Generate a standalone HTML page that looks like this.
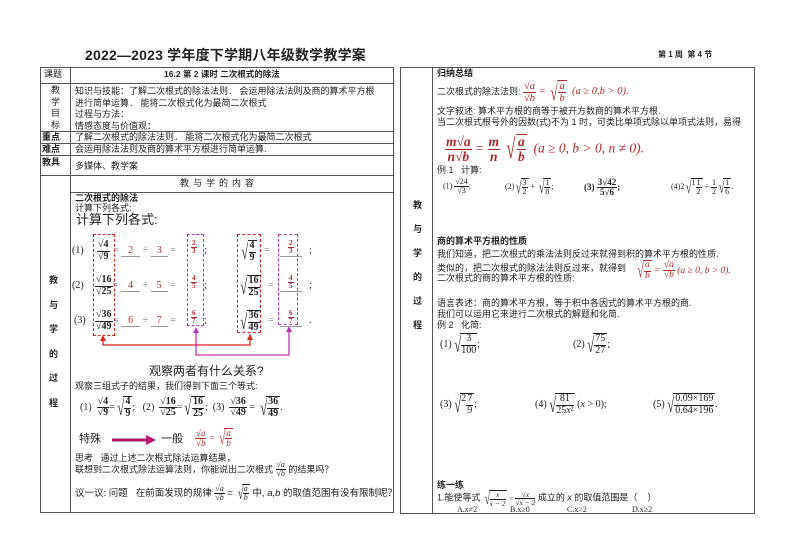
<!DOCTYPE html>
<html><head><meta charset="utf-8"><style>
*{margin:0;padding:0;box-sizing:border-box}
body{width:794px;height:560px;background:#fff;position:relative;overflow:hidden;font-family:"Liberation Sans","Noto Sans CJK SC",sans-serif;font-size:9px;color:#222}
.a{position:absolute;white-space:nowrap;line-height:1}
.ln{position:absolute;background:#555}
.m{font-family:"Liberation Serif","Noto Serif CJK SC",serif}
.red{color:#b0282a}
.fr{display:inline-flex;flex-direction:column;vertical-align:middle;text-align:center;line-height:1.05}
.fr>span:first-child{border-bottom:1px solid currentColor;padding:0 1px}
.r{display:inline-flex;align-items:flex-end;vertical-align:middle}
.r>i{font-style:normal;line-height:1}
.r>span{border-top:1px solid currentColor;padding:0 1px;line-height:1.05}
.t>i{font-size:2.1em;transform:scaleX(.6);margin-right:-3px}
.t>span{display:inline-flex}
.it{font-style:italic}
.b{font-weight:bold}
.dash{position:absolute;border:1px dashed}
</style></head><body>

<div class="a b" style="left:85px;top:48px;font-size:14px;letter-spacing:0.2px">2022—2023 学年度下学期八年级数学教学案</div>
<div class="a b" style="left:658px;top:51px;font-size:8px">第 1 周 &nbsp;第 4 节</div>

<!-- left table -->
<div style="position:absolute;left:40px;top:67px;width:354px;height:446px;border:1px solid #555"></div>
<div class="ln" style="left:70px;top:67px;width:1px;height:446px"></div>
<div class="ln" style="left:40px;top:83px;width:354px;height:1px"></div>
<div class="ln" style="left:40px;top:131px;width:354px;height:1px"></div>
<div class="ln" style="left:40px;top:143px;width:354px;height:1px"></div>
<div class="ln" style="left:40px;top:155px;width:354px;height:1px"></div>
<div class="ln" style="left:40px;top:175px;width:354px;height:1px"></div>
<div class="ln" style="left:70px;top:192px;width:324px;height:1px"></div>

<div class="a" style="left:44px;top:70px">课题</div>
<div class="a b" style="left:164px;top:70px;font-size:8.5px">16.2 第 2 课时 二次根式的除法</div>
<div class="a" style="left:51px;top:85px;line-height:11.5px;white-space:normal;width:10px">教学目标</div>
<div class="a" style="left:75px;top:86px;line-height:11.5px">知识与技能：了解二次根式的除法法则． 会运用除法法则及商的算术平方根<br>进行简单运算． 能将二次根式化为最简二次根式<br>过程与方法：<br>情感态度与价值观：</div>
<div class="a b" style="left:42px;top:133px">重点</div>
<div class="a" style="left:75px;top:133px">了解二次根式的除法法则． 能将二次根式化为最简二次根式</div>
<div class="a b" style="left:42px;top:145px">难点</div>
<div class="a" style="left:75px;top:145px">会运用除法法则及商的算术平方根进行简单运算.</div>
<div class="a b" style="left:42px;top:158px">教具</div>
<div class="a" style="left:75px;top:162px">多媒体、教学案</div>
<div class="a" style="left:180px;top:179px;letter-spacing:4px">教与学的内容</div>
<div class="a b" style="left:49px;top:268px;line-height:24.5px;white-space:normal;width:10px">教与学的过程</div>

<div class="a b" style="left:75px;top:194px">二次根式的除法</div>
<div class="a" style="left:75px;top:204px">计算下列各式:</div>
<div class="a" style="left:76px;top:213px;font-size:13px">计算下列各式:</div>

<!-- boxes -->
<div class="dash" style="left:93px;top:234px;width:22px;height:102px;border-color:#d22"></div>
<div class="dash" style="left:187px;top:234px;width:17px;height:92px;border-color:#b3b"></div>
<div class="dash" style="left:237px;top:234px;width:24px;height:99px;border-color:#d22"></div>
<div class="dash" style="left:278px;top:234px;width:20px;height:91px;border-color:#b3b"></div>

<svg style="position:absolute;left:0;top:0" width="794" height="560">
<polyline points="103,337 103,345 250,345 250,334" fill="none" stroke="#d22" stroke-width="1.3"/>
<polygon points="100,341 103,335 106,341" fill="#d22"/><polygon points="247,340 250,334 253,340" fill="#d22"/>
<polyline points="196,329 196,355 289,355 289,328" fill="none" stroke="#b3b" stroke-width="1.3"/>
<polygon points="193,333 196,327 199,333" fill="#b3b"/><polygon points="286,332 289,326 292,332" fill="#b3b"/>
<line x1="112" y1="440" x2="148" y2="440" stroke="#b0186a" stroke-width="3"/>
<polygon points="146,435 156,440 146,445" fill="#b0186a"/>
</svg>

<div class="m" style="position:absolute;left:72px;top:240px;font-size:10px">
 <div class="a" style="top:6px">(1)</div>
 <div class="a" style="left:25px;top:0"><span class="fr b"><span>√4</span><span>√9</span></span></div>
 <div class="a" style="left:41px;top:6px;color:#777">= <span style="border-bottom:1px solid #999;padding:0 7px" class="red">2</span> ÷ <span style="border-bottom:1px solid #999;padding:0 6px" class="red">3</span> =</div>
 <div class="a b red" style="left:119px;top:0;font-size:7px"><span class="fr"><span>2</span><span>3</span></span></div>
 <div class="a" style="left:132px;top:6px">;</div>
 <div class="a b" style="left:167px;top:0"><span class="r t"><i>√</i><span><span class="fr"><span>4</span><span>9</span></span></span></span></div>
 <div class="a" style="left:192px;top:6px;color:#777">=</div>
 <div class="a b red" style="left:208px;top:0;font-size:7px;border-bottom:1px solid #999;padding:0 8px"><span class="fr"><span>2</span><span>3</span></span></div>
 <div class="a" style="left:237px;top:6px">;</div>
</div>
<div class="m" style="position:absolute;left:72px;top:275px;font-size:10px">
 <div class="a" style="top:6px">(2)</div>
 <div class="a" style="left:23px;top:0"><span class="fr b"><span>√16</span><span>√25</span></span></div>
 <div class="a" style="left:41px;top:6px;color:#777">= <span style="border-bottom:1px solid #999;padding:0 7px" class="red">4</span> ÷ <span style="border-bottom:1px solid #999;padding:0 6px" class="red">5</span> =</div>
 <div class="a b red" style="left:119px;top:0;font-size:7px"><span class="fr"><span>4</span><span>5</span></span></div>
 <div class="a" style="left:132px;top:6px">;</div>
 <div class="a b" style="left:166px;top:0"><span class="r t"><i>√</i><span><span class="fr"><span>16</span><span>25</span></span></span></span></div>
 <div class="a" style="left:196px;top:6px;color:#777">=</div>
 <div class="a b red" style="left:208px;top:0;font-size:7px;border-bottom:1px solid #999;padding:0 8px"><span class="fr"><span>4</span><span>5</span></span></div>
 <div class="a" style="left:237px;top:6px">;</div>
</div>
<div class="m" style="position:absolute;left:74px;top:310px;font-size:10px">
 <div class="a" style="top:6px">(3)</div>
 <div class="a" style="left:21px;top:0"><span class="fr b"><span>√36</span><span>√49</span></span></div>
 <div class="a" style="left:39px;top:6px;color:#777">= <span style="border-bottom:1px solid #999;padding:0 7px" class="red">6</span> ÷ <span style="border-bottom:1px solid #999;padding:0 6px" class="red">7</span> =</div>
 <div class="a b red" style="left:117px;top:0;font-size:7px"><span class="fr"><span>6</span><span>7</span></span></div>
 <div class="a" style="left:130px;top:6px">;</div>
 <div class="a b" style="left:164px;top:0"><span class="r t"><i>√</i><span><span class="fr"><span>36</span><span>49</span></span></span></span></div>
 <div class="a" style="left:194px;top:6px;color:#777">=</div>
 <div class="a b red" style="left:206px;top:0;font-size:7px;border-bottom:1px solid #999;padding:0 8px"><span class="fr"><span>6</span><span>7</span></span></div>
 <div class="a" style="left:235px;top:6px">.</div>
</div>

<div class="a" style="left:149px;top:365px;font-size:12px">观察两者有什么关系?</div>
<div class="a" style="left:75px;top:382px">观察三组式子的结果，我们得到下面三个等式:</div>
<div class="a m" style="left:80px;top:396px;font-size:10px">(1) &nbsp;<span class="fr b"><span>√4</span><span>√9</span></span>=<span class="r t b"><i>√</i><span><span class="fr"><span>4</span><span>9</span></span></span></span>; &nbsp; (2) &nbsp;<span class="fr b"><span>√16</span><span>√25</span></span>=<span class="r t b"><i>√</i><span><span class="fr"><span>16</span><span>25</span></span></span></span>; &nbsp;(3) &nbsp;<span class="fr b"><span>√36</span><span>√49</span></span> = <span class="r t b"><i>√</i><span><span class="fr"><span>36</span><span>49</span></span></span></span>.</div>
<div class="a" style="left:79px;top:434px;font-size:11px">特殊</div>
<div class="a" style="left:161px;top:434px;font-size:11px">一般</div>
<div class="a m red it" style="left:195px;top:428px;font-size:9px"><span class="fr"><span>√a</span><span>√b</span></span> = <span class="r t"><i>√</i><span><span class="fr"><span>a</span><span>b</span></span></span></span></div>
<div class="a" style="left:75px;top:454px">思考 &nbsp; 通过上述二次根式除法运算结果，</div>
<div class="a" style="left:75px;top:461px">联想到二次根式除法运算法则，你能说出二次根式 <span class="fr m it" style="font-size:8px"><span>√a</span><span>√b</span></span> 的结果吗？</div>
<div class="a" style="left:75px;top:484px;font-size:9.5px">议一议: 问题 &nbsp; 在前面发现的规律 <span class="fr m it" style="font-size:8px"><span>√a</span><span>√b</span></span> = <span class="r t m it" style="font-size:8px"><i>√</i><span><span class="fr"><span>a</span><span>b</span></span></span></span> 中, <i>a,b</i> 的取值范围有没有限制呢？</div>

<!-- right table -->
<div style="position:absolute;left:400px;top:67px;width:355px;height:447px;border:1px solid #555"></div>
<div class="ln" style="left:432px;top:67px;width:1px;height:447px"></div>
<div class="a b" style="left:413px;top:193px;line-height:24px;white-space:normal;width:10px">教与学的过程</div>

<div class="a b" style="left:437px;top:69px">归纳总结</div>
<div class="a" style="left:437px;top:80px">二次根式的除法法则: <span class="red m it" style="font-size:10.5px"><span class="fr"><span>√a</span><span>√b</span></span> = <span class="r t"><i>√</i><span><span class="fr"><span>a</span><span>b</span></span></span></span> &nbsp;(a ≥ 0,b &gt; 0).</span></div>
<div class="a" style="left:437px;top:107px">文字叙述: 算术平方根的商等于被开方数商的算术平方根.</div>
<div class="a" style="left:437px;top:118px">当二次根式根号外的因数(式)不为 1 时，可类比单项式除以单项式法则，易得</div>
<div class="a red m it" style="left:445px;top:134px;font-size:13.5px"><span class="fr b"><span>m√a</span><span>n√b</span></span> = <span class="fr b"><span>m</span><span>n</span></span> <span class="r t"><i>√</i><span><span class="fr b"><span>a</span><span>b</span></span></span></span> &nbsp;(a ≥ 0, b &gt; 0, n ≠ 0).</div>
<div class="a" style="left:437px;top:166px">例 1 &nbsp; 计算:</div>
<div class="a m" style="left:443px;top:178px;font-size:8px">(1) <span class="fr"><span>√24</span><span>√3</span></span>;</div>
<div class="a m" style="left:505px;top:178px;font-size:8px">(2)<span class="r t"><i>√</i><span><span class="fr"><span>3</span><span>2</span></span></span></span> + <span class="r t"><i>√</i><span><span class="fr"><span>1</span><span>8</span></span></span></span>;</div>
<div class="a m b" style="left:584px;top:178px;font-size:9px">(3) <span class="fr"><span>3√42</span><span>5√6</span></span>;</div>
<div class="a m" style="left:671px;top:178px;font-size:8px">(4)2<span class="r t"><i>√</i><span>1<span class="fr"><span>1</span><span>2</span></span></span></span> ÷ <span class="fr"><span>1</span><span>2</span></span><span class="r t"><i>√</i><span><span class="fr"><span>1</span><span>6</span></span></span></span>.</div>

<div class="a b" style="left:437px;top:237px">商的算术平方根的性质</div>
<div class="a" style="left:437px;top:250px">我们知道，把二次根式的乘法法则反过来就得到积的算术平方根的性质.</div>
<div class="a" style="left:437px;top:264px">类似的，把二次根式的除法法则反过来，就得到</div>
<div class="a" style="left:437px;top:274px">二次根式的商的算术平方根的性质:</div>
<div class="a red m it" style="left:635px;top:260px;font-size:9.5px"><span class="r t"><i>√</i><span><span class="fr"><span>a</span><span>b</span></span></span></span> = <span class="fr"><span>√a</span><span>√b</span></span> (a ≥ 0, b &gt; 0).</div>
<div class="a" style="left:437px;top:299px">语言表述：商的算术平方根，等于积中各因式的算术平方根的商.</div>
<div class="a" style="left:437px;top:310px">我们可以运用它来进行二次根式的解题和化简.</div>
<div class="a" style="left:437px;top:321px">例 2 &nbsp; 化简:</div>
<div class="a m" style="left:440px;top:333px;font-size:10px">(1)<span class="r t"><i>√</i><span><span class="fr"><span>3</span><span>100</span></span></span></span>;</div>
<div class="a m" style="left:573px;top:333px;font-size:10px">(2)<span class="r t"><i>√</i><span><span class="fr"><span>75</span><span>27</span></span></span></span>;</div>
<div class="a m" style="left:440px;top:393px;font-size:10px">(3)<span class="r t"><i>√</i><span>2<span class="fr"><span>7</span><span>9</span></span></span></span>;</div>
<div class="a m" style="left:535px;top:393px;font-size:10px">(4)<span class="r t"><i>√</i><span><span class="fr"><span>81</span><span>25<i>x</i>²</span></span></span></span> (<i>x</i> &gt; 0);</div>
<div class="a m" style="left:653px;top:393px;font-size:10px">(5)<span class="r t"><i>√</i><span><span class="fr"><span>0.09×169</span><span>0.64×196</span></span></span></span>.</div>

<div class="a b" style="left:437px;top:481px">练一练</div>
<div class="a" style="left:437px;top:490px">1.能使等式 <span class="m it" style="font-size:7.5px"><span class="r t"><i>√</i><span><span class="fr"><span>x</span><span>x − 2</span></span></span></span> = <span class="fr"><span>√x</span><span>√x − 2</span></span></span> 成立的 <i>x</i> 的取值范围是（ &nbsp; &nbsp;）</div>
<div class="a m" style="left:457px;top:506px;font-size:8px">A.x≠2</div>
<div class="a m" style="left:510px;top:506px;font-size:8px">B.x≥0</div>
<div class="a m" style="left:567px;top:506px;font-size:8px">C.x&gt;2</div>
<div class="a m" style="left:632px;top:506px;font-size:8px">D.x≥2</div>
</body></html>
